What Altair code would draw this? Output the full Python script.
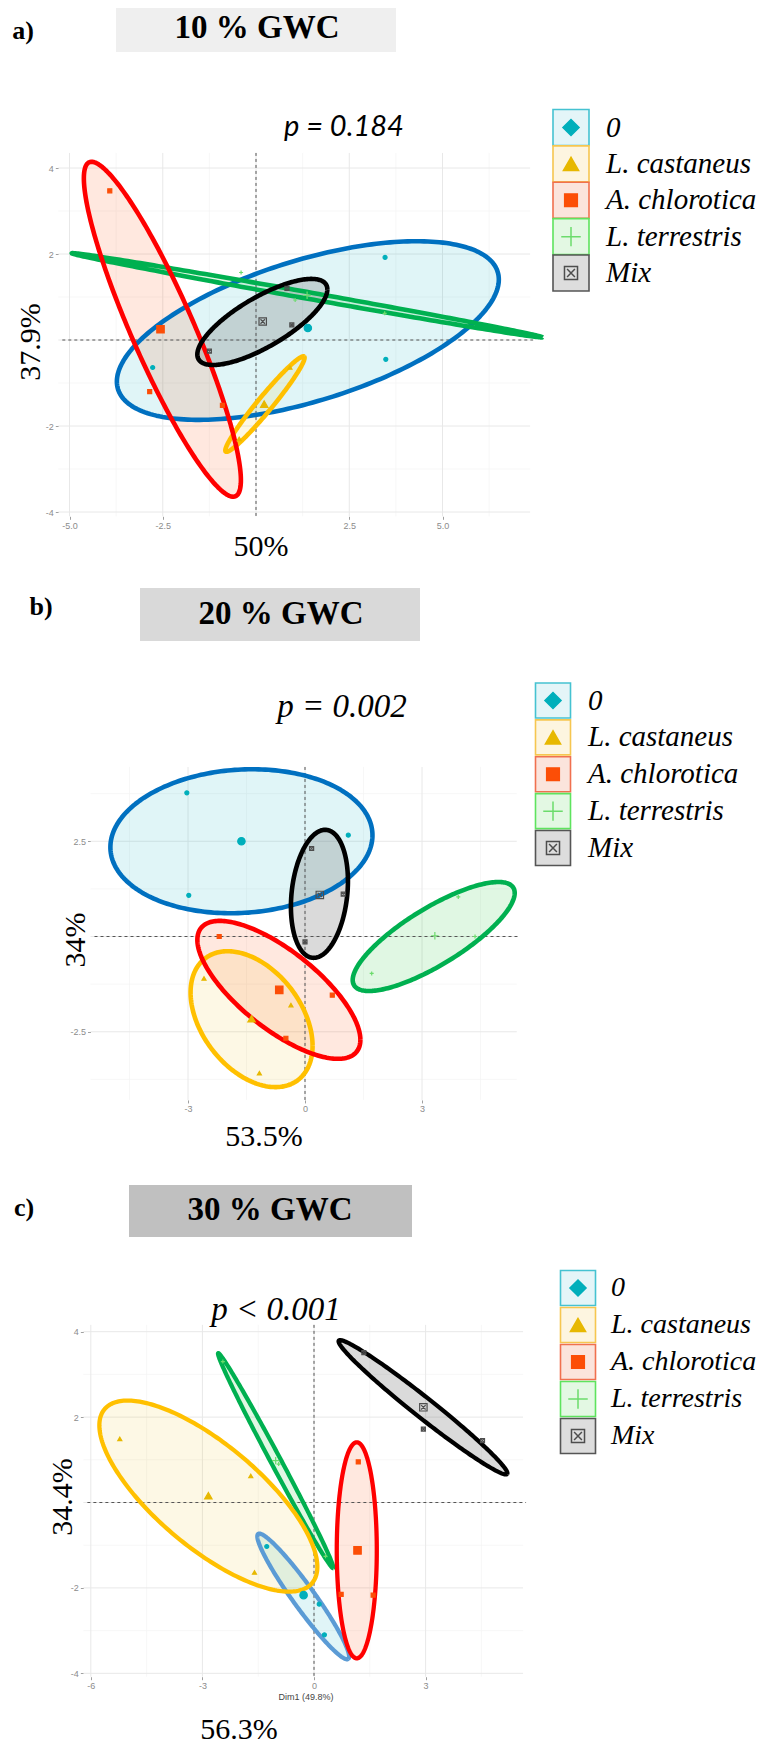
import numpy as np
import pandas as pd
import altair as alt

# ---------------- data ----------------
GROUPS = ["0", "L. castaneus", "A. chlorotica", "L. terrestris", "Mix"]
DRAW_ORDER = ["0", "L. terrestris", "L. castaneus", "A. chlorotica", "Mix"]

# Panel a) 10 % GWC  -- individual points, centroids, ellipses (cx, cy, ux, uy, vx, vy)
a_pts_x = {"0": [3.46, 3.48, -2.77], "L. castaneus": [0.91, -0.45, 0.20],
           "A. chlorotica": [-3.92, -2.85, -0.90], "L. terrestris": [1.05, 3.45, -0.40],
           "Mix": [-1.25, 0.96, 0.83]}
a_pts_y = {"0": [1.92, -0.45, -0.64], "L. castaneus": [-0.64, -2.30, -1.53],
           "A. chlorotica": [3.47, -1.20, -1.52], "L. terrestris": [0.93, 0.62, 1.57],
           "Mix": [-0.26, 0.35, 1.20]}
a_cen = {"0": [1.39, 0.28], "L. castaneus": [0.22, -1.49], "A. chlorotica": [-2.56, 0.25],
         "L. terrestris": [1.37, 1.04], "Mix": [0.18, 0.43]}
a_ell = {"0": [1.39, 0.22, 5.12, 1.186, 0.0, 1.705],
         "L. castaneus": [0.24, -1.49, 1.051, 1.105, 0.155, -0.111],
         "A. chlorotica": [-2.51, 0.25, 2.105, -3.51, 0.0, 1.686],
         "L. terrestris": [1.37, 1.04, 6.31, -0.977, -0.016, 0.080],
         "Mix": [0.17, 0.42, 1.743, 0.756, 0.0, 0.656]}

# Panel b) 20 % GWC
b_pts_x = {"0": [-3.03, 1.11, -2.98], "L. castaneus": [-2.59, -0.36, -1.17],
           "A. chlorotica": [-2.20, 0.70, -0.49], "L. terrestris": [3.93, 1.71, 4.36],
           "Mix": [0.17, 0.98, 0.00]}
b_pts_y = {"0": [3.77, 2.66, 1.08], "L. castaneus": [-1.10, -1.80, -3.59],
           "A. chlorotica": [0.00, -1.54, -2.67], "L. terrestris": [1.04, -0.97, 0.00],
           "Mix": [2.31, 1.11, -0.14]}
b_cen = {"0": [-1.63, 2.50], "L. castaneus": [-1.37, -2.16], "A. chlorotica": [-0.66, -1.40],
         "L. terrestris": [3.33, 0.02], "Mix": [0.38, 1.09]}
b_ell = {"0": [-1.63, 2.50, 3.36, 0.157, 0.0, 1.883],
         "L. castaneus": [-1.37, -2.17, 1.564, -0.70, 0.0, 1.64],
         "A. chlorotica": [-0.67, -1.40, 2.09, -1.312, 0.0, 1.247],
         "L. terrestris": [3.30, 0.0, 2.077, 1.142, 0.0, 0.861],
         "Mix": [0.37, 1.12, 0.731, 0.336, 0.0, 1.646]}

# Panel c) 30 % GWC
c_pts_x = {"0": [-1.27, 0.14, 0.28], "L. castaneus": [-5.22, -1.70, -1.60],
           "A. chlorotica": [1.19, 0.73, 1.59], "L. terrestris": [-2.45, -0.95, 0.31],
           "Mix": [1.34, 2.94, 4.53]}
c_pts_y = {"0": [-1.03, -2.38, -3.10], "L. castaneus": [1.49, 0.62, -1.64],
           "A. chlorotica": [0.95, -2.15, -2.17], "L. terrestris": [3.30, 0.90, -1.26],
           "Mix": [3.51, 1.72, 1.45]}
c_cen = {"0": [-0.28, -2.17], "L. castaneus": [-2.84, 0.16], "A. chlorotica": [1.17, -1.12],
         "L. terrestris": [-1.03, 0.98], "Mix": [2.94, 2.23]}
c_ell = {"0": [-0.29, -2.20, 1.21, -1.464, 0.24, 0.151],
         "L. castaneus": [-2.84, 0.15, 2.93, -1.656, 0.0, 1.504],
         "A. chlorotica": [1.15, -1.12, 0.538, 0.0, 0.0, 2.53],
         "L. terrestris": [-1.03, 0.98, 1.546, -2.518, 0.119, 0.055],
         "Mix": [2.93, 2.23, 2.263, -1.562, 0.167, 0.184]}

heads = ["a)", "b)", "c)"]
titles = ["10 % GWC", "20 % GWC", "30 % GWC"]
pvals = ["p = 0.184", "p = 0.002", "p < 0.001"]
xtitles = ["50%", "53.5%", "56.3%"]
ytitles = ["37.9%", "34%", "34.4%"]

# ---------------- styles ----------------
SERIF = "Liberation Serif"
SANS = "Liberation Sans"
PT_COLOR = {"0": "#00AFBB", "L. castaneus": "#E7B800", "A. chlorotica": "#FC4E07",
            "L. terrestris": "#6CDB6C", "Mix": "#4D4D4D"}
PT_SHAPE = {"0": "circle", "L. castaneus": "triangle-up", "A. chlorotica": "square",
            "L. terrestris": "M-1,0L1,0M0,-1L0,1",
            "Mix": "M-1,-1L1,-1L1,1L-1,1ZM-0.6,-0.6L0.6,0.6M-0.6,0.6L0.6,-0.6"}
LEG_SHAPE = dict(PT_SHAPE, **{"0": "diamond"})
PT_FILLED = {"0": True, "L. castaneus": True, "A. chlorotica": True,
             "L. terrestris": False, "Mix": False}
ELL_STROKE = {"0": "#0070C0", "L. castaneus": "#FFC000", "A. chlorotica": "#FF0000",
              "L. terrestris": "#00B050", "Mix": "#000000"}
ELL_FILL = {"0": "#00AFBB", "L. castaneus": "#E7B800", "A. chlorotica": "#FC4E07",
            "L. terrestris": "#2ECC40", "Mix": "#555555"}
ELL_FILL_OP = {"0": 0.12, "L. castaneus": 0.1, "A. chlorotica": 0.13,
               "L. terrestris": 0.15, "Mix": 0.22}
LEG_STROKE = {"0": "#45C2D1", "L. castaneus": "#F6C650", "A. chlorotica": "#F0704F",
              "L. terrestris": "#5EE35E", "Mix": "#555555"}
LEG_FILL = {"0": "#E4F5F8", "L. castaneus": "#FDF5E0", "A. chlorotica": "#FBE4DC",
            "L. terrestris": "#E3F8E3", "Mix": "#DDDDDD"}
LEG_SYM_SIZE = {"0": 260, "L. castaneus": 230, "A. chlorotica": 160,
                "L. terrestris": 380, "Mix": 170}

W, H, M = 754, 1736, 8


def V(v):
    return v - M


PANELS = [
    dict(pts_x=a_pts_x, pts_y=a_pts_y, cen=a_cen, ell=a_ell, blue="#0070C0",
         xdom=[-5.3, 7.35], ydom=[-4.1, 4.35], X0=256, SX=37.3, Y0=340, SY=43,
         gxM=[-5, -2.5, 0, 2.5, 5], gxm=[-3.75, -1.25, 1.25, 3.75, 6.25],
         gyM=[-4, -2, 0, 2, 4], gym=[-3, -1, 1, 3],
         xticks=[-5, -2.5, 2.5, 5], yticks=[-4, -2, 2, 4], xfmt=".1f", yfmt="d",
         head=(23, 31), box=(116, 396, 8, 52), boxfill="#EFEFEF", tit=(257, 28),
         p=(344, 127), pfont=("Lato", 29), xl=(261, 547), yl=(31, 342),
         legx=571, legy=(127.5, 273), legbox=36, leglab=606, legfs=29, sw=4.6),
    dict(pts_x=b_pts_x, pts_y=b_pts_y, cen=b_cen, ell=b_ell, blue="#0070C0",
         xdom=[-5.5, 5.43], ydom=[-4.29, 4.45], X0=305, SX=39, Y0=936.5, SY=38.1,
         gxM=[-3, 0, 3], gxm=[-4.5, -1.5, 1.5, 4.5],
         gyM=[-2.5, 0, 2.5], gym=[-3.75, -1.25, 1.25, 3.75],
         xticks=[-3, 0, 3], yticks=[-2.5, 2.5], xfmt="d", yfmt=".1f",
         head=(41, 607), box=(140, 420, 588, 641), boxfill="#D9D9D9", tit=(281, 614),
         p=(342, 707), pfont=(SERIF, 33), xl=(264, 1137), yl=(76, 940),
         legx=553, legy=(700.5, 848), legbox=35, leglab=588, legfs=29, sw=4.6),
    dict(pts_x=c_pts_x, pts_y=c_pts_y, cen=c_cen, ell=c_ell, blue="#5B9BD5",
         xdom=[-6.2, 5.62], ydom=[-4.08, 4.16], X0=314, SX=37.2, Y0=1502.5, SY=42.7,
         gxM=[-6, -3, 0, 3], gxm=[-4.5, -1.5, 1.5, 4.5],
         gyM=[-4, -2, 0, 2, 4], gym=[-3, -1, 1, 3],
         xticks=[-6, -3, 0, 3], yticks=[-4, -2, 2, 4], xfmt="d", yfmt="d",
         head=(24, 1208), box=(129, 412, 1185, 1237), boxfill="#C0C0C0", tit=(270, 1210),
         p=(276, 1310), pfont=(SERIF, 33), xl=(239, 1730), yl=(63, 1497),
         legx=578, legy=(1288, 1436), leglab=611, legbox=35, legfs=28, sw=4.3),
]


def ellipse_frames(ell, blue):
    t = np.linspace(0, 2 * np.pi, 241)
    s = np.linspace(0, np.pi, 161)
    lines, areas = [], []
    for g in DRAW_ORDER:
        cx, cy, ux, uy, vx, vy = ell[g]
        stroke = blue if g == "0" else ELL_STROKE[g]
        lines.append(pd.DataFrame({"g": g, "i": np.arange(len(t)),
                                   "x": cx + ux * np.cos(t) + vx * np.sin(t),
                                   "y": cy + uy * np.cos(t) + vy * np.sin(t),
                                   "stroke": stroke}))
        sxx = ux * ux + vx * vx
        sxy = ux * uy + vx * vy
        syy = uy * uy + vy * vy
        det = max(sxx * syy - sxy ** 2, 0.0)
        dx = -np.sqrt(sxx) * np.cos(s)
        yc = sxy / sxx * dx
        h = np.sqrt(det / sxx) * np.sqrt(np.clip(1 - dx ** 2 / sxx, 0, None))
        areas.append(pd.DataFrame({"g": g, "i": np.arange(len(s)), "x": cx + dx,
                                   "ylo": cy + yc - h, "yhi": cy + yc + h,
                                   "fill": ELL_FILL[g], "fop": ELL_FILL_OP[g]}))
    return pd.concat(lines), pd.concat(areas)


def point_frame(P):
    rows = []
    for g in GROUPS:
        for x, y in zip(P["pts_x"][g], P["pts_y"][g]):
            rows.append((g, x, y, 16))
        cx, cy = P["cen"][g]
        rows.append((g, cx, cy, 55))
    df = pd.DataFrame(rows, columns=["g", "x", "y", "size"])
    df["shape"] = df["g"].map(PT_SHAPE)
    df["stroke"] = df["g"].map(PT_COLOR)
    df["fill"] = [PT_COLOR[g] if PT_FILLED[g] else "transparent" for g in df["g"]]
    return df


def text_layer(txt, pos, size, font=SERIF, weight="normal", style="normal",
               angle=0, color="black", align="center"):
    return alt.Chart(pd.DataFrame({"t": [txt]})).mark_text(
        font=font, fontSize=size, fontWeight=weight, fontStyle=style, angle=angle,
        color=color, align=align, baseline="middle"
    ).encode(x=alt.value(V(pos[0])), y=alt.value(V(pos[1])), text="t:N")


layers = []
for k, P in enumerate(PANELS):
    xr = [V(P["X0"] + P["SX"] * P["xdom"][0]), V(P["X0"] + P["SX"] * P["xdom"][1])]
    yr = [V(P["Y0"] - P["SY"] * P["ydom"][0]), V(P["Y0"] - P["SY"] * P["ydom"][1])]
    xs = alt.Scale(domain=P["xdom"], range=xr, nice=False, zero=False)
    ys = alt.Scale(domain=P["ydom"], range=yr, nice=False, zero=False)

    def X(field, axis=None):
        return alt.X(field, type="quantitative", scale=xs, axis=axis)

    def Y(field, axis=None):
        return alt.Y(field, type="quantitative", scale=ys, axis=axis)

    xaxis = alt.Axis(orient="bottom", values=P["xticks"], format=P["xfmt"], title=None,
                     domain=False, grid=False, ticks=True, tickSize=3, tickColor="#A0A0A0",
                     labelFont=SANS, labelFontSize=9, labelColor="#8C8C8C", labelPadding=2,
                     labelExpr="replace(datum.label, '\u2212', '-')",
                     offset=yr[0] - H)
    yaxis = alt.Axis(orient="left", values=P["yticks"], format=P["yfmt"], title=None,
                     domain=False, grid=False, ticks=True, tickSize=3, tickColor="#A0A0A0",
                     labelFont=SANS, labelFontSize=9, labelColor="#8C8C8C", labelPadding=2,
                     labelExpr="replace(datum.label, '\u2212', '-')",
                     offset=-xr[0])

    # grid
    layers.append(alt.Chart(pd.DataFrame({"v": P["gxm"]})).mark_rule(color="#F3F3F3", strokeWidth=0.7)
                  .encode(x=X("v"), y=alt.value(yr[1]), y2=alt.value(yr[0])))
    layers.append(alt.Chart(pd.DataFrame({"v": P["gym"]})).mark_rule(color="#F3F3F3", strokeWidth=0.7)
                  .encode(y=Y("v"), x=alt.value(xr[0]), x2=alt.value(xr[1])))
    layers.append(alt.Chart(pd.DataFrame({"v": P["gxM"]})).mark_rule(color="#E8E8E8", strokeWidth=1)
                  .encode(x=X("v", xaxis), y=alt.value(yr[1]), y2=alt.value(yr[0])))
    layers.append(alt.Chart(pd.DataFrame({"v": P["gyM"]})).mark_rule(color="#E8E8E8", strokeWidth=1)
                  .encode(y=Y("v", yaxis), x=alt.value(xr[0]), x2=alt.value(xr[1])))

    lines_df, areas_df = ellipse_frames(P["ell"], P["blue"])
    # ellipse fills
    layers.append(alt.Chart(areas_df).mark_area(strokeWidth=0).encode(
        x=X("x"), y=Y("ylo"), y2="yhi:Q", detail="g:N",
        color=alt.Color("fill:N", scale=None), fillOpacity=alt.FillOpacity("fop:Q", scale=None)))
    # dashed zero lines
    layers.append(alt.Chart(pd.DataFrame({"v": [0]})).mark_rule(
        color="#555555", strokeDash=[3, 3], strokeWidth=1).encode(
        x=X("v"), y=alt.value(yr[1]), y2=alt.value(yr[0] + 2)))
    layers.append(alt.Chart(pd.DataFrame({"v": [0]})).mark_rule(
        color="#555555", strokeDash=[3, 3], strokeWidth=1).encode(
        y=Y("v"), x=alt.value(xr[0] + 4), x2=alt.value(xr[1] + 3)))
    # ellipse outlines
    layers.append(alt.Chart(lines_df).mark_line(strokeWidth=P["sw"], strokeJoin="round").encode(
        x=X("x"), y=Y("y"), detail="g:N", order="i:Q",
        color=alt.Color("stroke:N", scale=None)))
    # points
    layers.append(alt.Chart(point_frame(P)).mark_point(strokeWidth=1.2, opacity=1).encode(
        x=X("x"), y=Y("y"), shape=alt.Shape("shape:N", scale=None),
        size=alt.Size("size:Q", scale=None), fill=alt.Fill("fill:N", scale=None),
        stroke=alt.Stroke("stroke:N", scale=None)))

    # legend
    leg = pd.DataFrame({"g": GROUPS})
    leg["bstroke"] = leg["g"].map(LEG_STROKE)
    leg["bfill"] = leg["g"].map(LEG_FILL)
    leg["shape"] = leg["g"].map(LEG_SHAPE)
    leg["sstroke"] = leg["g"].map(PT_COLOR)
    leg["sfill"] = [PT_COLOR[g] if PT_FILLED[g] else "transparent" for g in GROUPS]
    leg["ssize"] = leg["g"].map(LEG_SYM_SIZE)
    ly = alt.Y("g:N", scale=alt.Scale(type="point", domain=GROUPS,
                                      range=[V(P["legy"][0]), V(P["legy"][1])], padding=0), axis=None)
    layers.append(alt.Chart(leg).mark_point(shape="square", size=P["legbox"] ** 2,
                                            strokeWidth=1.6, opacity=1).encode(
        x=alt.value(V(P["legx"])), y=ly,
        fill=alt.Fill("bfill:N", scale=None), stroke=alt.Stroke("bstroke:N", scale=None)))
    layers.append(alt.Chart(leg).mark_point(strokeWidth=1.5, opacity=1).encode(
        x=alt.value(V(P["legx"])), y=ly, shape=alt.Shape("shape:N", scale=None),
        size=alt.Size("ssize:Q", scale=None),
        fill=alt.Fill("sfill:N", scale=None), stroke=alt.Stroke("sstroke:N", scale=None)))
    layers.append(alt.Chart(leg).mark_text(font=SERIF, fontSize=P["legfs"], fontStyle="italic",
                                           align="left", baseline="middle", color="black").encode(
        x=alt.value(V(P["leglab"])), y=ly, text="g:N"))

    # header
    bx = P["box"]
    layers.append(alt.Chart(pd.DataFrame({"t": [titles[k]]})).mark_rect(color=P["boxfill"]).encode(
        x=alt.value(V(bx[0])), x2=alt.value(V(bx[1])), y=alt.value(V(bx[2])), y2=alt.value(V(bx[3]))))
    layers.append(text_layer(titles[k], P["tit"], 33, weight="bold"))
    layers.append(text_layer(heads[k], P["head"], 26, weight="bold"))
    pf = P["pfont"]
    layers.append(text_layer(pvals[k], P["p"], pf[1], font=pf[0], style="italic"))
    layers.append(text_layer(xtitles[k], P["xl"], 30))
    layers.append(text_layer(ytitles[k], P["yl"], 30, angle=270))
    if k == 2:
        layers.append(text_layer("Dim1 (49.8%)", (306, 1697), 9, font=SANS, color="#444444"))

chart = alt.layer(*layers).resolve_scale(
    x="independent", y="independent"
).properties(width=W, height=H, padding=0, autosize="none").configure_view(stroke="transparent")

chart.save("out.html", embed_options={"renderer": "svg", "actions": False})
